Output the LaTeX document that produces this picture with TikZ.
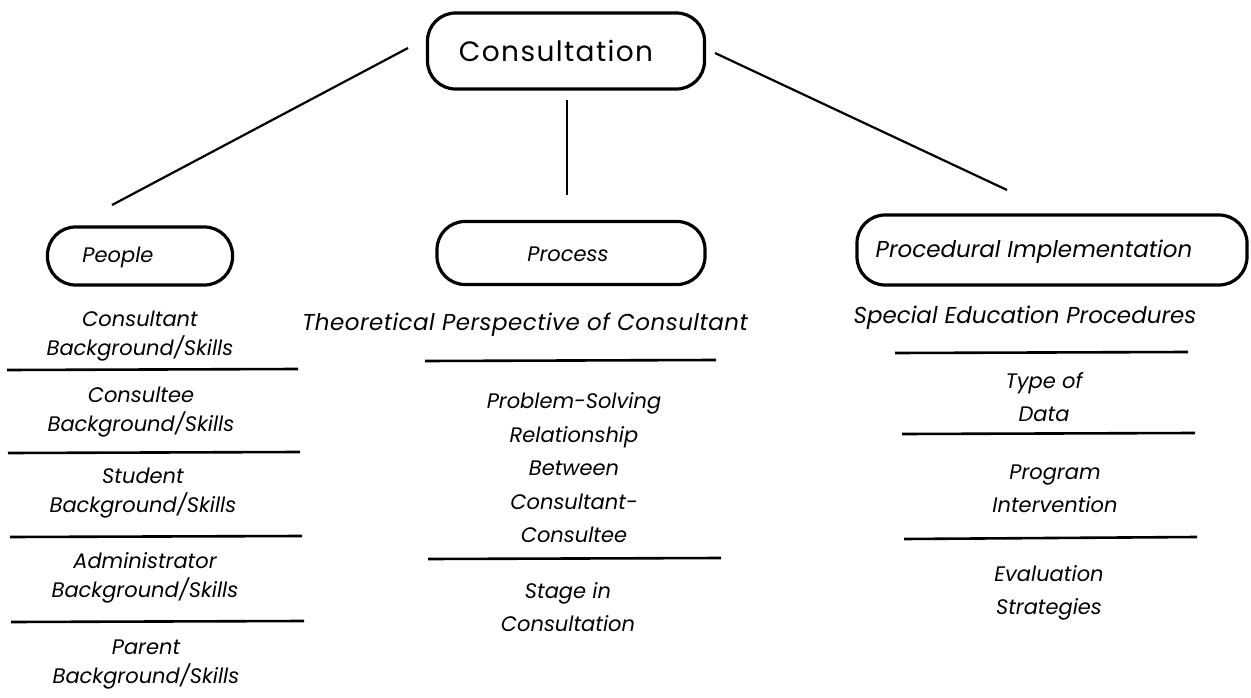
\documentclass[tikz,border=0pt]{standalone}
\usepackage{fontspec}
\setmainfont{Poppins}
\begin{document}
\begin{tikzpicture}[x=1pt,y=-1pt,
  box/.style={draw, line width=3.2pt, rounded corners=28pt, inner sep=0pt},
  lbl/.style={font=\itshape\fontsize{21}{29}\selectfont, align=center, inner sep=0pt},
  lblw/.style={font=\itshape\fontsize{21}{33.5}\selectfont, align=center, inner sep=0pt},
  big/.style={font=\itshape\fontsize{23}{29}\selectfont, align=center, inner sep=0pt},
  rulel/.style={line width=2.6pt},
  conn/.style={line width=2.2pt}]
\useasboundingbox (0,0) rectangle (1251,698);
% top
\node[box, minimum width=277pt, minimum height=76pt] (cons) at (566,51) {};
\node[font=\fontsize{28}{30}\selectfont\addfontfeature{LetterSpace=5}] (const) at (556,51) {Consultation};
% second level boxes
\node[box, minimum width=185pt, minimum height=58pt] (people) at (140,256) {};
\node[lbl] (peoplet) at (118,257) {People};
\node[box, minimum width=268pt, minimum height=63pt] (process) at (571,253) {};
\node[lbl] (processt) at (568,254) {Process};
\node[box, minimum width=390pt, minimum height=70pt] (proc) at (1052,250) {};
\node[big] (proct) at (1034,252) {Procedural Implementation};
% connectors
\coordinate (l1) at (408,48); \coordinate (l2) at (112,205);
\coordinate (m1) at (567,100); \coordinate (m2) at (567,195);
\coordinate (r1) at (715,53); \coordinate (r2) at (1007,190);
\draw[conn] (l1) -- (l2);
\draw[conn] (m1) -- (m2);
\draw[conn] (r1) -- (r2);
% People column
\node[lbl] (p1) at (140,336) {Consultant\\Background/Skills};
\node[lbl] (p2) at (141,412) {Consultee\\Background/Skills};
\node[lbl] (p3) at (143,493) {Student\\Background/Skills};
\node[lbl] (p4) at (145,578) {Administrator\\Background/Skills};
\node[lbl] (p5) at (146,665) {Parent\\Background/Skills};
\coordinate (pa1) at (7,370); \coordinate (pb1) at (298,369);
\coordinate (pa2) at (8,453); \coordinate (pb2) at (300,452);
\coordinate (pa3) at (10,537); \coordinate (pb3) at (302,536);
\coordinate (pa4) at (11,622); \coordinate (pb4) at (304,621);
\draw[rulel] (pa1) -- (pb1);
\draw[rulel] (pa2) -- (pb2);
\draw[rulel] (pa3) -- (pb3);
\draw[rulel] (pa4) -- (pb4);
% Process column
\node[big] (q1) at (525,325) {\addfontfeature{LetterSpace=2}Theoretical Perspective of Consultant};
\node[lblw] (q2) at (574,468) {Problem-Solving\\Relationship\\Between\\Consultant-\\Consultee};
\node[lblw] (q3) at (568,607) {Stage in\\Consultation};
\coordinate (qa1) at (425,361); \coordinate (qb1) at (716,360);
\coordinate (qa2) at (428,559); \coordinate (qb2) at (721,558);
\draw[rulel] (qa1) -- (qb1);
\draw[rulel] (qa2) -- (qb2);
% Procedural column
\node[big] (s1) at (1025,318) {Special Education Procedures};
\node[lblw] (s2) at (1044,397) {Type of\\Data};
\node[lblw] (s3) at (1055,489) {Program\\Intervention};
\node[lblw] (s4) at (1049,593) {Evaluation\\Strategies};
\coordinate (sa1) at (895,353); \coordinate (sb1) at (1188,352);
\coordinate (sa2) at (902,434); \coordinate (sb2) at (1195,433);
\coordinate (sa3) at (904,539); \coordinate (sb3) at (1197,537);
\draw[rulel] (sa1) -- (sb1);
\draw[rulel] (sa2) -- (sb2);
\draw[rulel] (sa3) -- (sb3);
\end{tikzpicture}
\end{document}
